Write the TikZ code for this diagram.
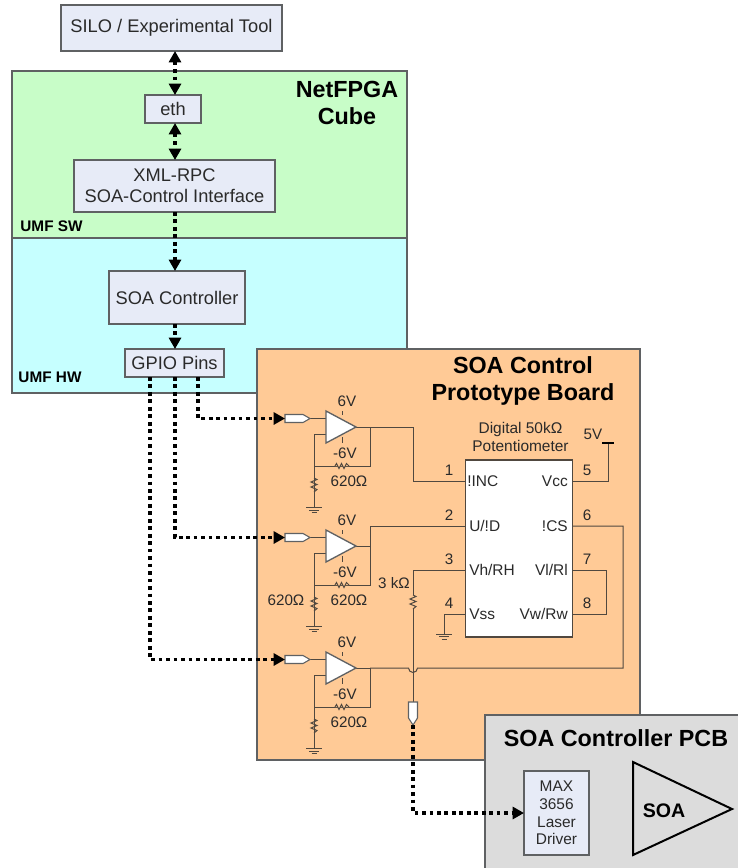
\documentclass[tikz,border=0pt]{standalone}
\usepackage{fontspec}
\setmainfont{Liberation Sans}
\usetikzlibrary{arrows.meta,calc}
\definecolor{swgreen}{HTML}{C8FDC8}
\definecolor{hwcyan}{HTML}{C6FFFF}
\definecolor{boardorange}{HTML}{FFCA96}
\definecolor{pcbgrey}{HTML}{DCDCDC}
\definecolor{boxblue}{HTML}{E7EBF7}
\definecolor{edgegrey}{HTML}{5F6163}
\definecolor{wirecol}{HTML}{50483F}
\definecolor{txtcol}{HTML}{2A2A2A}
\newcommand{\fsize}[1]{\fontsize{#1}{#1}\selectfont}
\tikzset{
  panel/.style={draw=edgegrey,line width=1pt},
  block/.style={draw=edgegrey,fill=boxblue,line width=1.1pt,inner sep=0pt,outer sep=0pt,align=center,text=txtcol,font=\fsize{13.7}},
  title/.style={font=\bfseries\fsize{17.5},align=center,text=black,inner sep=0pt},
  tag/.style={font=\bfseries\fsize{11.5},text=black,inner sep=0pt},
  lab/.style={font=\fsize{11.4},text=txtcol,inner sep=0pt},
  small/.style={font=\fsize{11.6},text=txtcol,inner sep=0pt},
  wire/.style={draw=wirecol,line width=0.75pt},
  sig/.style={draw=black,line width=2.4pt,dash pattern=on 2.8pt off 2.8pt},
  sigend/.style={sig,-{Triangle[length=8.5pt,width=9pt]}},
  sigboth/.style={sig,{Triangle[length=8.5pt,width=9pt]}-{Triangle[length=8.5pt,width=9pt]}},
  port/.style={draw=edgegrey,fill=white,line width=0.8pt},
}
% ground symbol
\newcommand{\gnd}[2]{%
  \draw[wire] (#1-8,#2) -- (#1+8,#2);
  \draw[wire] (#1-5,#2+2.5) -- (#1+5,#2+2.5);
  \draw[wire] (#1-2.5,#2+5) -- (#1+2.5,#2+5);}
% horizontal and vertical resistors, centred on x,y
\newcommand{\hres}[2]{%
  \draw[wire,fill=boardorange] (#1-7,#2) -- (#1-5.5,#2-2.5) -- (#1-3,#2+2.5) -- (#1-.5,#2-2.5) -- (#1+2,#2+2.5) -- (#1+4.5,#2-2.5) -- (#1+7,#2);}
\newcommand{\vres}[2]{%
  \draw[wire] (#1,#2-7) -- (#1+3,#2-5.5) -- (#1-3,#2-3) -- (#1+3,#2-.5) -- (#1-3,#2+2) -- (#1+3,#2+4.5) -- (#1,#2+7);}
% amplifier stage: #1 name, #2 vertical offset
\newcommand{\ampstage}[2]{%
  \begin{scope}[shift={(0,#2)}]
    \coordinate (#1in) at (285,418.5);
    \coordinate (#1tip) at (356,427);
    \coordinate (#1fb) at (370,427);
    \coordinate (#1plus) at (326,418.5);
    \coordinate (#1minus) at (326,434);
    \coordinate (#1fr) at (370,466);
    \coordinate (#1fl) at (314,466);
    \coordinate (#1gnd) at (314,507.5);
    \draw[wire] (#1plus) -- (310,418.5);
    \draw[wire] (#1minus) -- (#1minus -| #1fl) -- (#1fl) -- (#1fr) -- (#1fb);
    \draw[wire] (#1fl) -- (#1gnd);
    \draw[wire] (#1tip) -- (#1fb);
    \draw[wire] (342.5,411) -- (342.5,415);
    \draw[wire] (342.5,437) -- (342.5,443);
    \draw[port] (285,414.5) -- (303,414.5) -- (310,418.5) -- (303,422.5) -- (285,422.5) -- cycle;
    \draw[port,line width=1pt,fill=white] (326,411) -- (356,427) -- (326,443) -- cycle;
    \hres{342}{466}
    \vres{314}{485}
    \gnd{314}{507.5}
    \node[lab] (#1pos) at (347,401) {6V};
    \node[lab] (#1neg) at (345,453) {-6V};
    \node[lab] (#1ohm) at (349,481) {620Ω};
  \end{scope}}
\begin{document}
\begin{tikzpicture}[x=0.75pt,y=-0.75pt]
\useasboundingbox (0,0) rectangle (738,868);
% panels
\fill[white] (0,0) rectangle (738,868);
\draw[panel,fill=swgreen] (12,71) rectangle (407,238);
\draw[panel,fill=hwcyan] (12,238) rectangle (407,393);
\draw[panel,fill=boardorange] (257,349) rectangle (640,760);
\fill[pcbgrey] (485,715) rectangle (738,868);
\draw[panel] (485,868) -- (485,715) -- (738,715);
% titles
\node[title] (tnet) at (347,103) {NetFPGA\\[3pt]Cube};
\node[title] (tboard) at (523,381) {SOA Control\\[2.5pt]Prototype Board};
\node[title] (tpcb) at (616,738) {SOA Controller PCB};
\node[tag] (tsw) at (51.5,226) {UMF SW};
\node[tag] (thw) at (50,377) {UMF HW};
% blocks
\node[block,minimum width=165.75pt,minimum height=34.5pt] (silo) at (171.5,28) {SILO / Experimental Tool};
\node[block,minimum width=42pt,minimum height=21pt] (eth) at (173,109) {eth};
\node[block,minimum width=150.75pt,minimum height=39pt] (xml) at (174.5,186) {XML-RPC\\[2pt]SOA-Control Interface};
\node[block,minimum width=102pt,minimum height=39.75pt] (soac) at (177,297.5) {SOA Controller};
\node[block,minimum width=74.25pt,minimum height=21pt] (gpio) at (174.5,363) {GPIO Pins};
\node[block,fill=boxblue,font=\fsize{11.6},minimum width=48.75pt,minimum height=63pt] (max) at (556.5,813) {MAX\\[1.7pt]3656\\[1.7pt]Laser\\[1.7pt]Driver};
\node[draw=wirecol,fill=white,line width=1pt,inner sep=0pt,outer sep=0pt,minimum width=80.25pt,minimum height=132.75pt] (chip) at (519.25,548.5) {};
% SOA triangle
\draw[draw=black,line width=1.5pt,fill=pcbgrey] (633,762) -- (732,809) -- (633,855) -- cycle;
\node[font=\bfseries\fsize{14.7},text=black,inner sep=0pt] (soalab) at (664,811) {SOA};
% signal connectors in the upper column
\coordinate (colx) at (175,0);
\draw[sigboth] (colx |- silo.south) -- (colx |- eth.north);
\draw[sigboth] (colx |- eth.south) -- (colx |- xml.north);
\draw[sigend] (colx |- xml.south) -- (colx |- soac.north);
\draw[sigend] (colx |- soac.south) -- (colx |- gpio.north);
% amplifier stages
\ampstage{a}{0}
\ampstage{b}{119}
\ampstage{c}{241}
\node[lab] (extraohm) at (286,600) {620Ω};
% GPIO to stages
\coordinate (ga) at (198,0);
\coordinate (gb) at (175,0);
\coordinate (gc) at (150,0);
\draw[sigend] (ga |- gpio.south) -- (ga |- ain) -- (ain);
\draw[sigend] (gb |- gpio.south) -- (gb |- bin) -- (bin);
\draw[sigend] (gc |- gpio.south) -- (gc |- cin) -- (cin);
% chip pins
\coordinate (p1) at (465.5,481);
\coordinate (p2) at (465.5,526);
\coordinate (p3) at (465.5,570);
\coordinate (p4) at (465.5,614);
\coordinate (p5) at (573,481);
\coordinate (p6) at (573,526);
\coordinate (p7) at (573,570);
\coordinate (p8) at (573,614);
\draw[wire] (afb) -- (413,427) -- (413,481) -- (p1);
\draw[wire] (bfb) -- (370,526) -- (p2);
\coordinate (vout) at (413,702);
\draw[wire] (p3) -- (413,570) -- (413,595);
\vres{413}{602}
\draw[wire] (413,609) -- (vout);
\draw[wire] (p4) -- (444,614) -- (444,634);
\gnd{444}{634}
\coordinate (vcc) at (608,443);
\draw[wire] (p5) -- (vcc |- p5) -- (vcc);
\draw[line width=2pt,draw=black] (602,443) -- (614,443);
\draw[wire] (p7) -- (606,570) -- (606,614) -- (p8);
% output of the third stage with a hop over the vertical wire
\draw[wire] (cfb) -- (408.5,668) arc[start angle=180,end angle=0,radius=4.5] -- (623,668) -- (623,526) -- (p6);
% output port and link to the laser driver
\draw[port] (408.5,702) -- (417.5,702) -- (417.5,718) -- (413,725) -- (408.5,718) -- cycle;
\coordinate (vportend) at (413,725);
\draw[sigend] (vportend) -- (vportend |- max.west) -- (max.west);
% chip text
\node[small,anchor=west] (n1) at (467,481) {!INC};
\node[small,anchor=west] (n2) at (469,526) {U/!D};
\node[small,anchor=west] (n3) at (469,570) {Vh/RH};
\node[small,anchor=west] (n4) at (469,614) {Vss};
\node[small,anchor=east] (n5) at (568,481) {Vcc};
\node[small,anchor=east] (n6) at (568,526) {!CS};
\node[small,anchor=east] (n7) at (568,570) {Vl/Rl};
\node[small,anchor=east] (n8) at (568,614) {Vw/Rw};
\node[small,align=center] (ctitle) at (520.5,437) {Digital 50kΩ\\[1.7pt]Potentiometer};
\node[lab] (l1) at (449,470) {1};
\node[lab] (l2) at (449,515) {2};
\node[lab] (l3) at (449,559) {3};
\node[lab] (l4) at (449,603) {4};
\node[lab] (l5) at (587,470) {5};
\node[lab] (l6) at (587,515) {6};
\node[lab] (l7) at (587,559) {7};
\node[lab] (l8) at (587,603) {8};
\node[lab] (l5v) at (593,434) {5V};
\node[lab] (l3k) at (394,583) {3 kΩ};
\end{tikzpicture}
\end{document}
